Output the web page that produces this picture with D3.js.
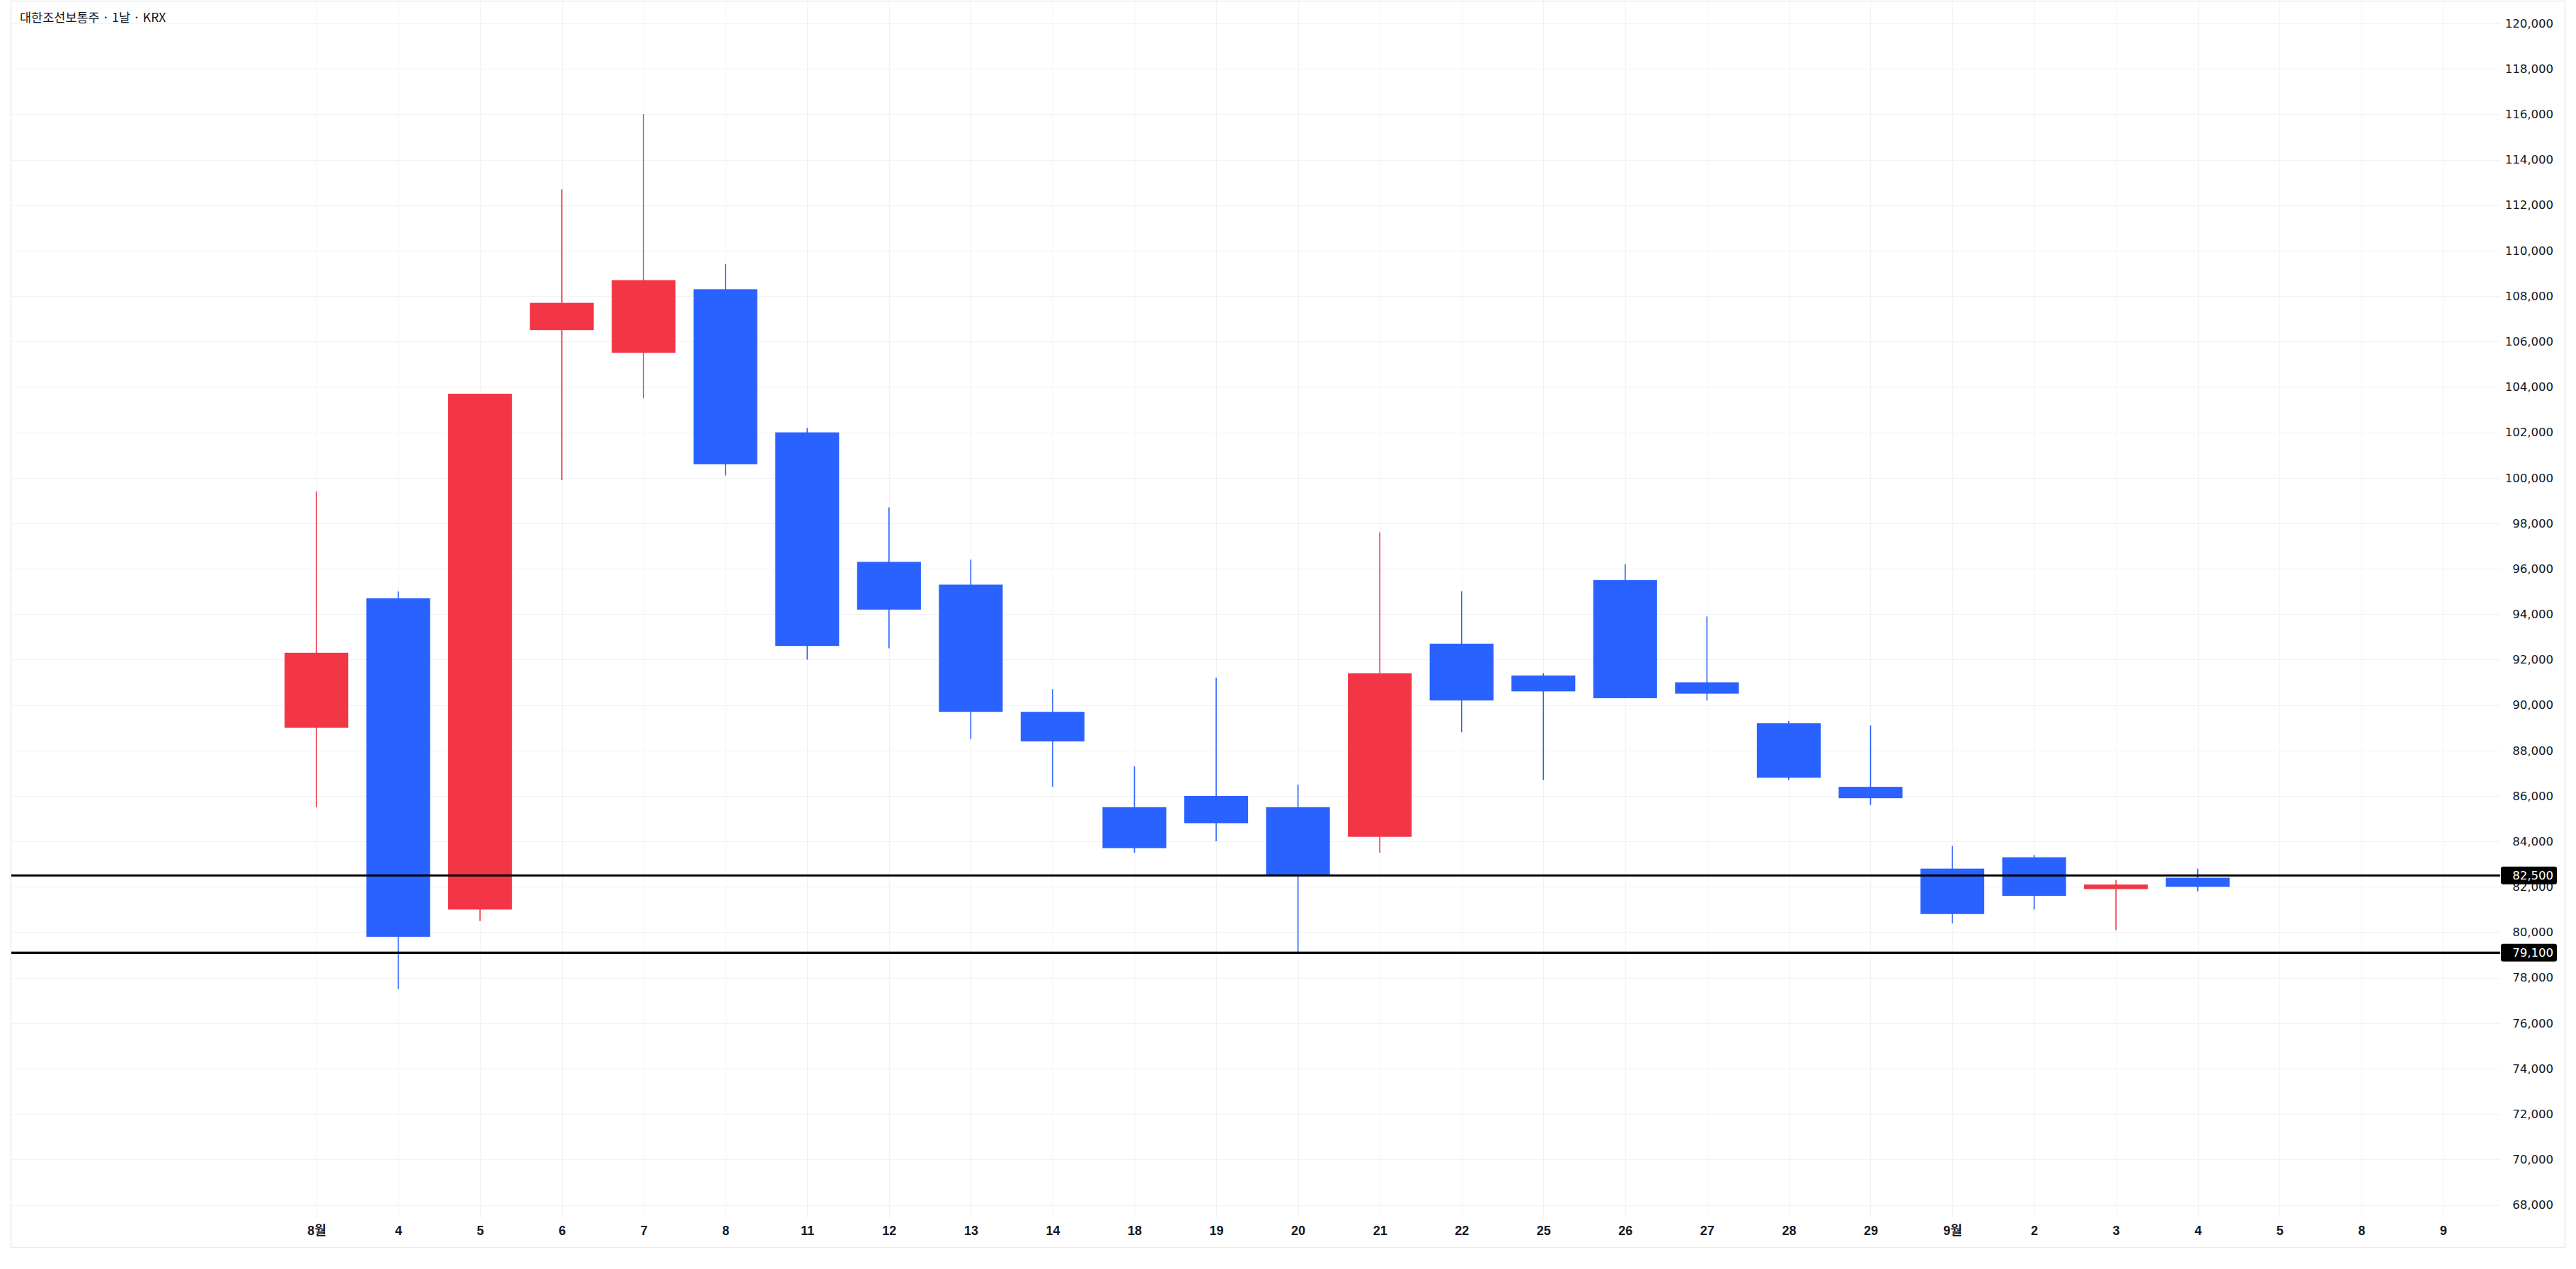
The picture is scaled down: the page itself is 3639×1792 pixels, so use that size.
<!DOCTYPE html>
<html>
<head>
<meta charset="utf-8">
<script src="https://cdn.jsdelivr.net/npm/d3@7"></script>
<style>
  html, body { margin: 0; padding: 0; background: #ffffff; }
  svg { display: block; }
</style>
</head>
<body>
<svg id="chart" width="3639" height="1792"></svg>
<script>
// ---------- data ----------
const title = "대한조선보통주 · 1날 · KRX";
const dateLabels = ["8월","4","5","6","7","8","11","12","13","14","18","19","20","21","22","25","26","27","28","29","9월","2","3","4","5","8","9"];
const opens  = [89000, 94700, 81000, 106500, 105500, 108300, 102000, 96300, 95300, 89700, 85500, 86000, 85500, 84200, 92700, 91300, 95500, 91000, 89200, 86400, 82800, 83300, 81900, 82400];
const highs  = [99400, 95000, 103700, 112700, 116000, 109400, 102200, 98700, 96400, 90700, 87300, 91200, 86500, 97600, 95000, 91400, 96200, 93900, 89300, 89100, 83800, 83400, 82300, 82800];
const lows   = [85500, 77500, 80500, 99900, 103500, 100100, 92000, 92500, 88500, 86400, 83500, 84000, 79100, 83500, 88800, 86700, 90300, 90200, 86700, 85600, 80400, 81000, 80100, 81800];
const closes = [92300, 79800, 103700, 107700, 108700, 100600, 92600, 94200, 89700, 88400, 83700, 84800, 82500, 91400, 90200, 90600, 90300, 90500, 86800, 85900, 80800, 81600, 82100, 82000];
const priceTicks = [68000,70000,72000,74000,76000,78000,80000,82000,84000,86000,88000,90000,92000,94000,96000,98000,100000,102000,104000,106000,108000,110000,112000,114000,116000,118000,120000];
const levels = [82500, 79100];

// ---------- layout ----------
const W = 3639, H = 1792;
const frame = { left: 15.5, top: 1.5, right: 3623.5, bottom: 1761.5 };
const pane = { left: 16, right: 3532, top: 2, bottom: 1720 };
const upColor = "#F23645", downColor = "#2962FF";
const gridColor = "#f1f2f5";
const axisFont = "'DejaVu Sans','Verdana',sans-serif";

const svg = d3.select("#chart");

const x = d3.scalePoint()
  .domain(d3.range(dateLabels.length))
  .range([447, 3451.3]);
const slot = x.step();
const bodyW = slot * 0.78;

const y = d3.scaleLinear().domain([68000, 120000]).range([1701.5, 33]);

svg.append("rect").attr("width", W).attr("height", H).attr("fill", "#fff");

// frame
svg.append("rect")
  .attr("x", frame.left).attr("y", frame.top)
  .attr("width", frame.right - frame.left).attr("height", frame.bottom - frame.top)
  .attr("fill", "none").attr("stroke", "#e6e8ec").attr("stroke-width", 1.4);

// grid
const grid = svg.append("g");
grid.selectAll("line.h").data(priceTicks).join("line")
  .attr("class", "h")
  .attr("x1", pane.left).attr("x2", pane.right)
  .attr("y1", d => Math.round(y(d)) + 0.5).attr("y2", d => Math.round(y(d)) + 0.5)
  .attr("stroke", gridColor).attr("stroke-width", 1);
grid.selectAll("line.v").data(d3.range(dateLabels.length)).join("line")
  .attr("class", "v")
  .attr("x1", d => Math.round(x(d)) + 0.5).attr("x2", d => Math.round(x(d)) + 0.5)
  .attr("y1", pane.top).attr("y2", pane.bottom)
  .attr("stroke", gridColor).attr("stroke-width", 1);

// price axis labels
const yAxis = d3.axisRight(y).tickValues(priceTicks).tickSize(0).tickPadding(0)
  .tickFormat(d3.format(","));
const yg = svg.append("g").attr("transform", `translate(3607,0)`).call(yAxis);
yg.select(".domain").remove();
yg.selectAll("text")
  .attr("text-anchor", "end")
  .attr("x", 0)
  .attr("fill", "#131722")
  .style("font-family", axisFont)
  .style("font-size", "16.5px");

// time axis labels
const xAxis = d3.axisBottom(x).tickSize(0).tickPadding(0)
  .tickFormat(i => dateLabels[i]);
const xg = svg.append("g").attr("transform", `translate(0,1738)`).call(xAxis);
xg.select(".domain").remove();
xg.selectAll("text")
  .attr("y", 0).attr("dy", "0.35em")
  .attr("fill", "#131722")
  .style("font-family", "'Liberation Sans','Noto Sans CJK KR',sans-serif")
  .style("font-weight", "bold")
  .style("font-size", "18px");

// candles
const candles = opens.map((o, i) => ({ i, o, h: highs[i], l: lows[i], c: closes[i] }));
const cg = svg.append("g");
const cand = cg.selectAll("g.c").data(candles).join("g").attr("class", "c");
cand.append("line")
  .attr("x1", d => x(d.i)).attr("x2", d => x(d.i))
  .attr("y1", d => y(d.h)).attr("y2", d => y(d.l))
  .attr("stroke", d => d.c >= d.o ? upColor : downColor)
  .attr("stroke-width", 1.6);
cand.append("rect")
  .attr("x", d => x(d.i) - bodyW / 2)
  .attr("width", bodyW)
  .attr("y", d => y(Math.max(d.o, d.c)))
  .attr("height", d => Math.max(2, y(Math.min(d.o, d.c)) - y(Math.max(d.o, d.c))))
  .attr("fill", d => d.c >= d.o ? upColor : downColor);

// horizontal levels
const lv = svg.append("g");
lv.selectAll("line").data(levels).join("line")
  .attr("x1", pane.left).attr("x2", pane.right)
  .attr("y1", d => y(d)).attr("y2", d => y(d))
  .attr("stroke", "#000").attr("stroke-width", 3.2);
const tag = lv.selectAll("g.tag").data(levels).join("g").attr("class", "tag");
tag.append("rect")
  .attr("x", pane.right + 1).attr("y", d => y(d) - 12.5)
  .attr("width", 79).attr("height", 25).attr("rx", 3)
  .attr("fill", "#000");
tag.append("text")
  .attr("x", 3607).attr("y", d => y(d)).attr("dy", "0.36em")
  .attr("text-anchor", "end").attr("fill", "#fff")
  .style("font-family", axisFont)
  .style("font-size", "16.5px")
  .text(d => d3.format(",")(d));

// title
svg.append("text")
  .attr("x", 28).attr("y", 25).attr("dy", "0.35em")
  .attr("fill", "#131722")
  .style("font-family", "'Noto Sans CJK KR','Noto Sans',sans-serif")
  .style("font-size", "17.5px")
  .text(title);
</script>
</body>
</html>
